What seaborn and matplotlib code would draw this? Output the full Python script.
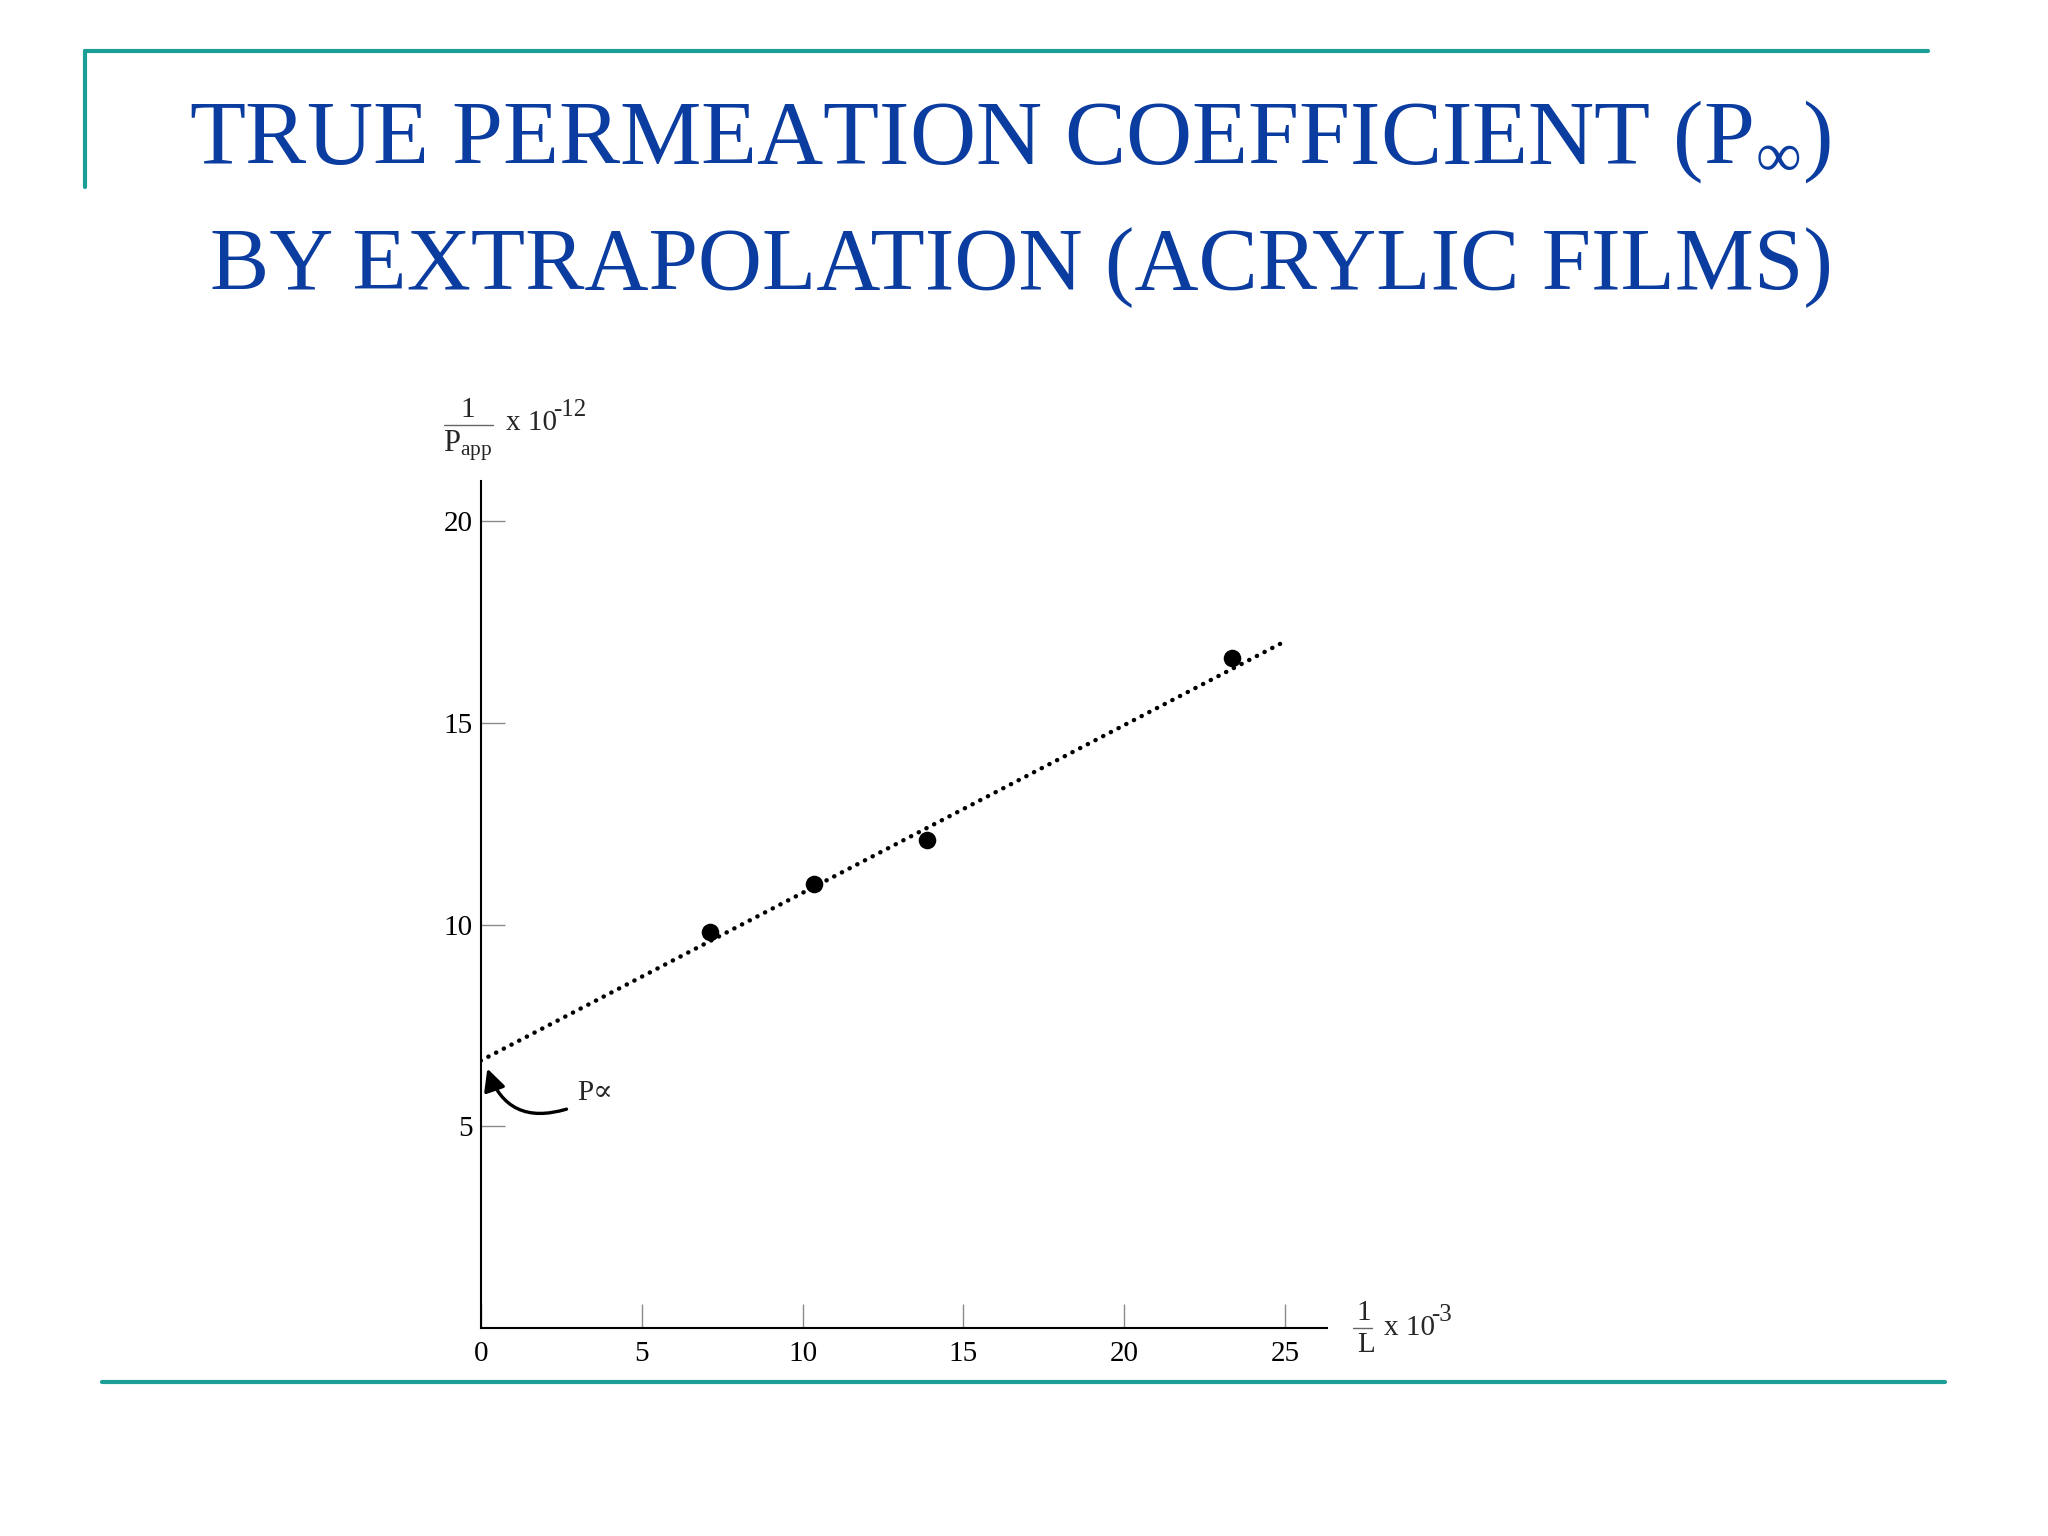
import matplotlib
matplotlib.use("Agg")
import matplotlib.pyplot as plt
import seaborn as sns
import pandas as pd
from matplotlib.lines import Line2D

# ---- data ----
inv_L = [7.13, 10.37, 13.86, 23.34]          # 1/L x 10^-3
inv_Papp = [9.81, 11.0, 12.1, 16.6]          # 1/Papp x 10^-12
fit_x = [0.0, 24.85]                         # extrapolated line
fit_y = [6.63, 16.96]
x_ticks = [0, 5, 10, 15, 20, 25]
y_ticks = [5, 10, 15, 20]

title_lines = ["TRUE PERMEATION COEFFICIENT (P$_{\\infty}$)",
               "BY EXTRAPOLATION (ACRYLIC FILMS)"]

sns.set_theme(style="white")
plt.rcParams['font.family'] = ['Liberation Serif', 'DejaVu Serif']
plt.rcParams['mathtext.fontset'] = 'custom'
plt.rcParams['mathtext.rm'] = 'Liberation Serif'
plt.rcParams['mathtext.it'] = 'Liberation Serif:italic'
plt.rcParams['mathtext.bf'] = 'Liberation Serif:bold'
plt.rcParams['mathtext.fallback'] = 'stix'

TEAL = '#1a9e96'
BLUE = '#0b3c9f'

fig = plt.figure(figsize=(20.48, 15.36), dpi=100)
ax = fig.add_axes([0.2347, 0.1352, 0.648 - 0.2347, 0.6871 - 0.1352])

pts = pd.DataFrame({"x": inv_L, "y": inv_Papp})
fit = pd.DataFrame({"x": fit_x, "y": fit_y})

sns.lineplot(data=fit, x="x", y="y", ax=ax, color="black", lw=3.2,
             linestyle=(0, (0.05, 1.9)))
ax.lines[-1].set_dash_capstyle('round')
sns.scatterplot(data=pts, x="x", y="y", ax=ax, color="black", s=160,
                edgecolor="black", linewidth=0, zorder=5)

ax.set_xlim(0, 26.3)
ax.set_ylim(0, 21.0)
ax.set_xticks(x_ticks)
ax.set_yticks(y_ticks)
ax.set_xticklabels([str(t) for t in x_ticks])
ax.set_yticklabels([str(t) for t in y_ticks])
ax.set_xlabel("")
ax.set_ylabel("")
for s in ["top", "right"]:
    ax.spines[s].set_visible(False)
for s in ["left", "bottom"]:
    ax.spines[s].set_color("black")
    ax.spines[s].set_linewidth(1.5)
ax.tick_params(axis='both', which='major', bottom=True, left=True,
               direction='in', length=17, width=1.0,
               color='#8a8a8a', labelsize=21, labelcolor='black')
ax.tick_params(axis='y', pad=6)
ax.tick_params(axis='x', pad=9)
ax.grid(False)

# P∝ annotation
ax.annotate("", xy=(0.18, 6.5), xytext=(2.75, 5.45),
            arrowprops=dict(arrowstyle="-|>,head_length=1.1,head_width=0.55",
                            color="black", lw=2.4,
                            connectionstyle="arc3,rad=-0.5"))
ax.text(3.0, 5.82, "P∝", fontsize=21, ha="left", va="center",
        family=['Liberation Serif', 'DejaVu Serif'])

# axis title fractions (figure coordinates)
W, H = 2048, 1536
def fx(px): return px / W
def fy(py): return 1 - py / H

# y-axis label: 1 / Papp x 10^-12
fig.text(fx(468), fy(410), "1", fontsize=21, ha="center", va="center")
fig.add_artist(Line2D([fx(444), fx(493)], [fy(425), fy(425)], color="#666666", lw=1.0))
fig.text(fx(468), fy(446), "P$_{\\mathrm{app}}$", fontsize=22, ha="center", va="center")
fig.text(fx(506), fy(423), "x 10", fontsize=21, ha="left", va="center")
fig.text(fx(553), fy(410), "-12", fontsize=18, ha="left", va="center")

# x-axis label: 1 / L x 10^-3
fig.text(fx(1364), fy(1313), "1", fontsize=21, ha="center", va="center")
fig.add_artist(Line2D([fx(1353), fx(1372)], [fy(1328), fy(1328)], color="#666666", lw=1.0))
fig.text(fx(1366), fy(1345), "L", fontsize=21, ha="center", va="center")
fig.text(fx(1384), fy(1328), "x 10", fontsize=21, ha="left", va="center")
fig.text(fx(1431), fy(1315), "-3", fontsize=18, ha="left", va="center")

# slide title
fig.text(fx(1010), fy(142), title_lines[0], fontsize=66, color=BLUE,
         ha="center", va="center")
fig.text(fx(1021), fy(268), title_lines[1], fontsize=64, color=BLUE,
         ha="center", va="center")

# teal frame lines
fig.add_artist(Line2D([fx(85), fx(1928)], [fy(51), fy(51)], color=TEAL, lw=3.0))
fig.add_artist(Line2D([fx(85), fx(85)], [fy(51), fy(187)], color=TEAL, lw=3.0))
fig.add_artist(Line2D([fx(102), fx(1945)], [fy(1382), fy(1382)], color=TEAL, lw=3.0))

fig.savefig("out.png", dpi=100, facecolor="white")
